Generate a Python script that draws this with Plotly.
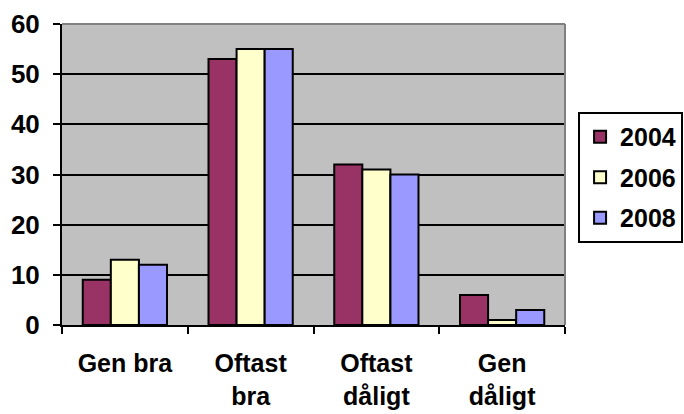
import plotly.graph_objects as go

categories = ["Gen bra", "Oftast<br>bra", "Oftast<br>dåligt", "Gen<br>dåligt"]
years = ["2004", "2006", "2008"]
values_2004 = [9, 53, 32, 6]
values_2006 = [13, 55, 31, 1]
values_2008 = [12, 55, 30, 3]
series_values = [values_2004, values_2006, values_2008]
colors = ["#993366", "#FFFFCC", "#9999FF"]

FONT = "Liberation Sans, Arial, sans-serif"
TXT = dict(family=FONT, size=26, color="black", weight="bold")
XTXT = dict(family=FONT, size=25, color="black", weight="bold")
LEG = dict(family=FONT, size=25, color="black", weight="bold")

fig = go.Figure()
for name, vals, col in zip(years, series_values, colors):
    fig.add_trace(go.Bar(
        x=categories, y=vals, name=name, legendgroup=name,
        marker=dict(color=col, line=dict(color="black", width=2)),
    ))

# grey frame on the top and right edges of the plot area
for x0, y0, x1, y1 in [(0, 1, 1, 1), (1, 0, 1, 1)]:
    fig.add_shape(type="line", xref="paper", yref="paper", x0=x0, y0=y0, x1=x1, y1=y1,
                  line=dict(color="#808080", width=2), layer="above")

fig.update_layout(
    width=684, height=414,
    margin=dict(l=62, r=119, t=24, b=89, autoexpand=False),
    paper_bgcolor="white", plot_bgcolor="#C0C0C0",
    barmode="group", bargap=0.33, bargroupgap=0,
    font=TXT,
    legend=dict(
        x=1.026, y=0.708, xanchor="left", yanchor="top",
        bordercolor="black", borderwidth=2, bgcolor="white",
        font=LEG, tracegroupgap=5, itemwidth=30,
    ),
    showlegend=True,
)
fig.update_xaxes(
    showline=True, linecolor="black", linewidth=2, automargin=False,
    ticks="outside", tickson="boundaries", ticklen=7, tickwidth=2, tickcolor="black",
    tickfont=XTXT, ticklabelstandoff=15, showgrid=False,
)
fig.update_yaxes(
    range=[0, 60], dtick=10, automargin=False,
    showline=True, linecolor="black", linewidth=2,
    ticks="outside", ticklen=7, tickwidth=2, tickcolor="black",
    showgrid=True, gridcolor="black", gridwidth=2,
    tickfont=TXT, zeroline=False, ticklabelstandoff=8,
)

fig.write_html("out.html")
